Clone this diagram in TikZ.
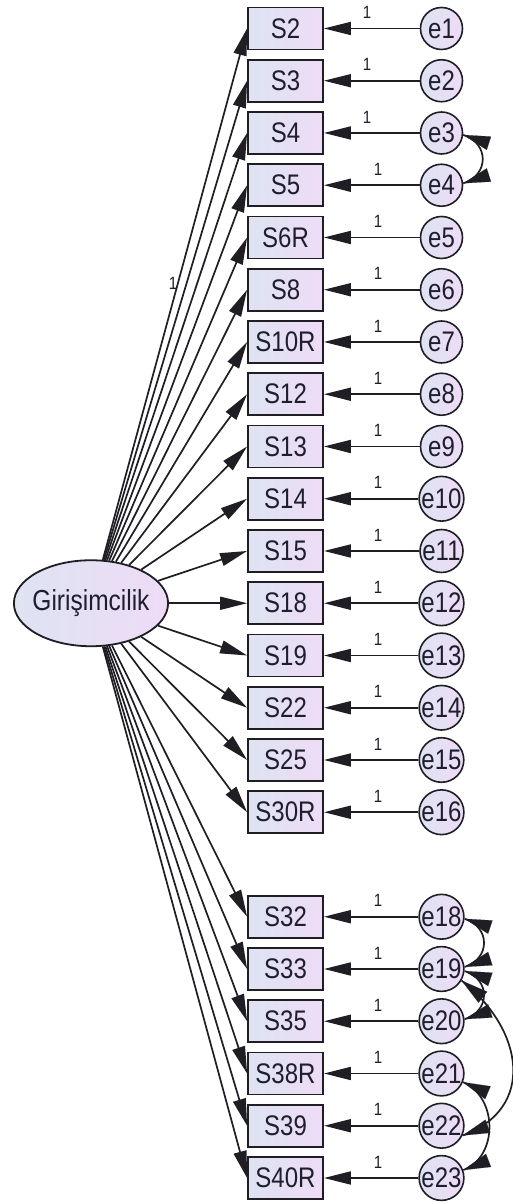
\documentclass[tikz,border=0pt]{standalone}
\usepackage{fontspec}
\setmainfont{Liberation Sans}
\usetikzlibrary{arrows.meta,shapes.geometric,calc}
\definecolor{shadeL}{RGB}{222,227,242}
\definecolor{shadeR}{RGB}{238,220,246}
\definecolor{edge}{RGB}{30,30,36}
\definecolor{ink}{RGB}{30,30,45}
% slightly tall lettering, as in the Amos output
\newcommand\tall[1]{\scalebox{1}[1.18]{#1}}
% two-headed curved covariance: the arc itself plus a straight head at each end
% #1,#2 first node and border angle, #3 leaving angle,
% #4,#5 second node and border angle, #6 arriving angle, #7 looseness
\newcommand\covar[7]{%
  \draw[covline] (#1.#2) to[out=#3,in=#6,looseness=#7] (#4.#5);
  \coordinate (#1#4a) at ($(#1.#2)+(#3:27)$);
  \coordinate (#1#4b) at ($(#4.#5)+(#6:27)$);
  \draw[covtip] (#1#4a) -- (#1.#2);
  \draw[covtip] (#1#4b) -- (#4.#5);
}

\begin{document}
\begin{tikzpicture}[x=1pt,y=1pt,
  every node/.style={inner sep=0pt,text=ink},
  obs/.style={draw=edge,line width=1.8pt,rectangle,minimum width=75pt,minimum height=42pt,
    left color=shadeL,right color=shadeR,font=\fontsize{24}{28}\selectfont},
  err/.style={draw=edge,line width=1.6pt,circle,minimum size=42pt,
    left color=shadeL,right color=shadeR,font=\fontsize{24}{28}\selectfont},
  lat/.style={draw=edge,line width=1.8pt,ellipse,inner xsep=-4pt,minimum width=152pt,minimum height=86pt,
    left color=shadeL,right color=shadeR,font=\fontsize{24.5}{28}\selectfont},
  regpath/.style={line width=1.7pt,draw=edge,-{Triangle[length=27pt,width=13pt]}},
  covline/.style={line width=1.7pt,draw=edge},
  covtip/.style={line width=0.1pt,draw=edge,-{Triangle[length=27pt,width=14pt]}},
  wt/.style={font=\fontsize{15}{17}\selectfont}
]
\useasboundingbox (0,0) rectangle (513,1202);

% latent factor
\node[lat] (F) at (91,598.75) {\tall{Girişimcilik}};

% indicators, their error terms and the paths
\foreach \s/\e/\r in {S2/e1/0,S3/e2/1,S4/e3/2,S5/e4/3,S6R/e5/4,S8/e6/5,S10R/e7/6,
    S12/e8/7,S13/e9/8,S14/e10/9,S15/e11/10,S18/e12/11,S19/e13/12,S22/e14/13,
    S25/e15/14,S30R/e16/15,S32/e18/17,S33/e19/18,S35/e20/19,S38R/e21/20,
    S39/e22/21,S40R/e23/22} {
  \pgfmathsetmacro\yy{1173.5-52.25*\r}
  \pgfmathsetmacro\xw{\r<3 ? 367 : 378}
  \node[obs] (\s) at (285.5,\yy) {\tall{\s}};
  \node[err] (\e) at (441.5,\yy) {\tall{\e}};
  \draw[regpath] (F) -- (\s.west);
  \draw[regpath] (\e) -- (\s);
  \node[wt] at (\xw,\yy+16) {\tall{1}};
}

% fixed loading
\node[wt] (one) at (173,919) {\tall{1}};

% error covariances
\covar{e3}{-5}{-18}{e4}{5}{18}{1.45}
\covar{e18}{-5}{-18}{e19}{5}{18}{1.45}
\covar{e19}{-5}{-18}{e20}{5}{18}{1.45}
\covar{e21}{-22}{-23}{e23}{20}{21}{1.1}
\covar{e19}{-30}{-38}{e22}{-25}{20}{1.3}
\end{tikzpicture}
\end{document}
